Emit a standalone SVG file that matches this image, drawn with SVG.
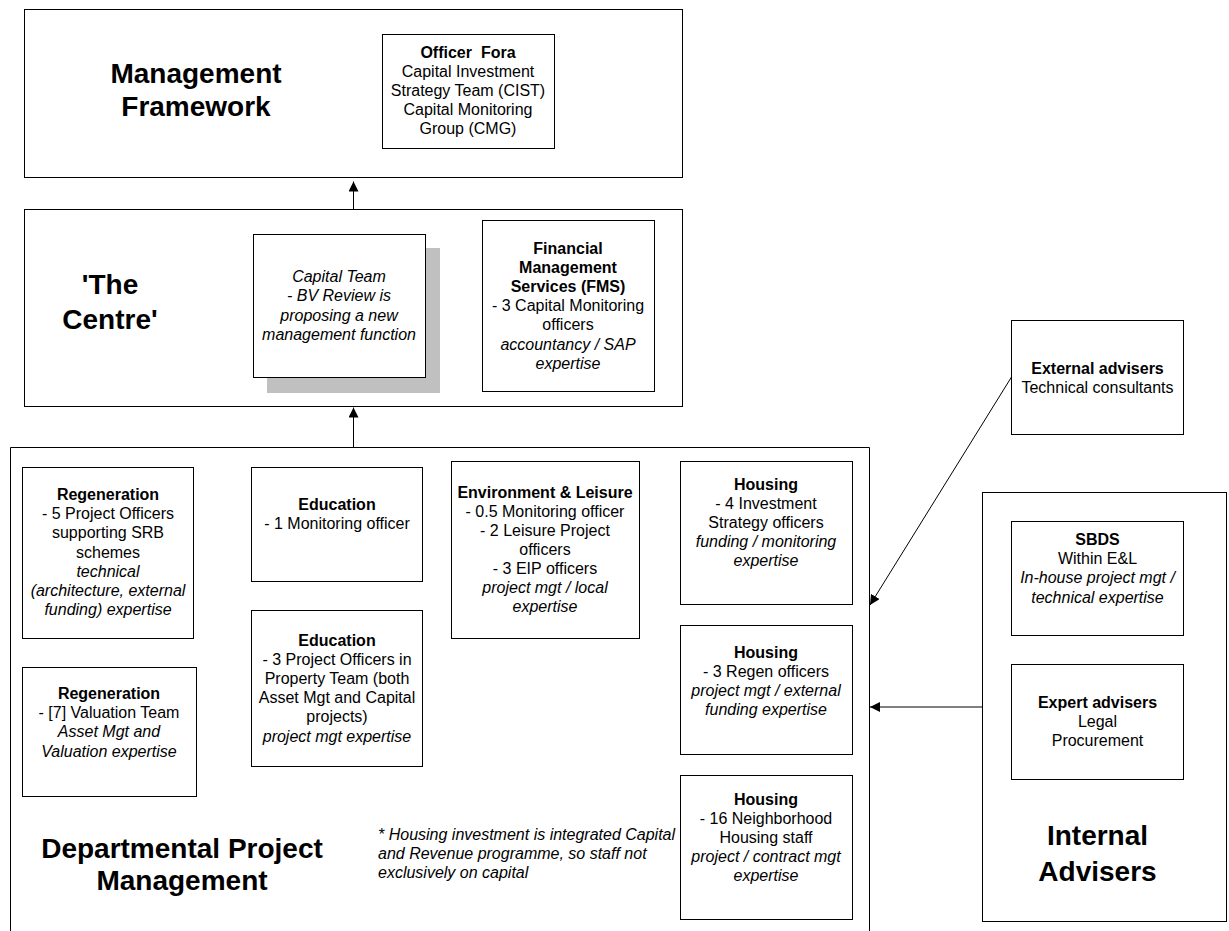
<svg xmlns="http://www.w3.org/2000/svg" width="1229" height="931" viewBox="0 0 1229 931">
<style>
text{font-family:"Liberation Sans",Arial,sans-serif;fill:#000}
.t{font-size:16px;text-anchor:middle}
.b{font-weight:bold}
.i{font-style:italic}
.h{font-size:28px;font-weight:bold;text-anchor:middle}
.box{fill:#fff;stroke:#000;stroke-width:1}
.con{stroke:#000;stroke-width:1;fill:none}
</style>
<defs>
<marker id="ah" viewBox="0 0 10 10" refX="10" refY="5" markerWidth="10" markerHeight="10" markerUnits="userSpaceOnUse" orient="auto">
<path d="M0,0 L10,5 L0,10 z" fill="#000"/>
</marker>
</defs>
<rect width="1229" height="931" fill="#fff"/>

<g id="management-framework">
<rect class="box" x="24.5" y="9.5" width="658" height="168"/>
<text class="h" x="196" y="83">Management</text>
<text class="h" x="196" y="116">Framework</text>
</g>
<g id="officer-fora">
<rect class="box" x="382.5" y="34.5" width="172" height="114"/>
<text class="t" x="468" y="58.4"><tspan class="b">Officer&#160; Fora</tspan><tspan x="468" dy="19">Capital Investment</tspan><tspan x="468" dy="19">Strategy Team (CIST)</tspan><tspan x="468" dy="19">Capital Monitoring</tspan><tspan x="468" dy="19">Group (CMG)</tspan></text>
</g>

<g id="the-centre">
<rect class="box" x="24.5" y="209.5" width="658" height="197"/>
<text class="h" x="110" y="294">'The</text>
<text class="h" x="110" y="329">Centre'</text>
</g>
<g id="capital-team">
<rect x="267" y="248" width="173" height="145" fill="#c0c0c0"/>
<rect class="box" x="253.5" y="234.5" width="172" height="143"/>
<text class="t i" x="339" y="282"><tspan>Capital Team</tspan><tspan x="339" dy="19.3">- BV Review is</tspan><tspan x="339" dy="19.3">proposing a new</tspan><tspan x="339" dy="19.3">management function</tspan></text>
</g>
<g id="fms">
<rect class="box" x="482.5" y="220.5" width="172" height="171"/>
<text class="t" x="568" y="254"><tspan class="b">Financial</tspan><tspan class="b" x="568" dy="19.1">Management</tspan><tspan class="b" x="568" dy="19.1">Services (FMS)</tspan><tspan x="568" dy="19.1">- 3 Capital Monitoring</tspan><tspan x="568" dy="19.1">officers</tspan><tspan class="i" x="568" dy="19.1">accountancy / SAP</tspan><tspan class="i" x="568" dy="19.1">expertise</tspan></text>
</g>

<g id="departmental">
<path class="box" d="M10.5,940 V447.5 H869.5 V940"/>
<text class="h" x="182" y="858">Departmental Project</text>
<text class="h" x="182" y="890">Management</text>
<text class="t i" style="text-anchor:start" x="378" y="840"><tspan>* Housing investment is integrated Capital</tspan><tspan x="378" dy="19">and Revenue programme, so staff not</tspan><tspan x="378" dy="19">exclusively on capital</tspan></text>
</g>
<g id="regeneration-1">
<rect class="box" x="22.5" y="467.5" width="171" height="171"/>
<text class="t" x="108" y="500"><tspan class="b">Regeneration</tspan><tspan x="108" dy="19.2">- 5 Project Officers</tspan><tspan x="108" dy="19.2">supporting SRB</tspan><tspan x="108" dy="19.2">schemes</tspan><tspan class="i" x="108" dy="19.2">technical</tspan><tspan class="i" x="108" dy="19.2">(architecture, external</tspan><tspan class="i" x="108" dy="19.2">funding) expertise</tspan></text>
</g>
<g id="regeneration-2">
<rect class="box" x="22.5" y="667.5" width="174" height="129"/>
<text class="t" x="109" y="699"><tspan class="b">Regeneration</tspan><tspan x="109" dy="19.2">- [7] Valuation Team</tspan><tspan class="i" x="109" dy="19.2">Asset Mgt and</tspan><tspan class="i" x="109" dy="19.2">Valuation expertise</tspan></text>
</g>
<g id="education-1">
<rect class="box" x="251.5" y="467.5" width="171" height="114"/>
<text class="t" x="337" y="510"><tspan class="b">Education</tspan><tspan x="337" dy="19">- 1 Monitoring officer</tspan></text>
</g>
<g id="education-2">
<rect class="box" x="251.5" y="610.5" width="171" height="156"/>
<text class="t" x="337" y="646"><tspan class="b">Education</tspan><tspan x="337" dy="19.1">- 3 Project Officers in</tspan><tspan x="337" dy="19.1">Property Team (both</tspan><tspan x="337" dy="19.1">Asset Mgt and Capital</tspan><tspan x="337" dy="19.1">projects)</tspan><tspan class="i" x="337" dy="19.1">project mgt expertise</tspan></text>
</g>
<g id="environment-leisure">
<rect class="box" x="451.5" y="461.5" width="188" height="177"/>
<text class="t" x="545" y="497.5"><tspan class="b">Environment &amp; Leisure</tspan><tspan x="545" dy="19.1">- 0.5 Monitoring officer</tspan><tspan x="545" dy="19.1">- 2 Leisure Project</tspan><tspan x="545" dy="19.1">officers</tspan><tspan x="545" dy="19.1">- 3 EIP officers</tspan><tspan class="i" x="545" dy="19.1">project mgt / local</tspan><tspan class="i" x="545" dy="19.1">expertise</tspan></text>
</g>
<g id="housing-1">
<rect class="box" x="680.5" y="461.5" width="172" height="143"/>
<text class="t" x="766" y="490"><tspan class="b">Housing</tspan><tspan x="766" dy="19.1">- 4 Investment</tspan><tspan x="766" dy="19.1">Strategy officers</tspan><tspan class="i" x="766" dy="19.1">funding / monitoring</tspan><tspan class="i" x="766" dy="19.1">expertise</tspan></text>
</g>
<g id="housing-2">
<rect class="box" x="680.5" y="625.5" width="172" height="129"/>
<text class="t" x="766" y="657.5"><tspan class="b">Housing</tspan><tspan x="766" dy="19">- 3 Regen officers</tspan><tspan class="i" x="766" dy="19">project mgt / external</tspan><tspan class="i" x="766" dy="19">funding expertise</tspan></text>
</g>
<g id="housing-3">
<rect class="box" x="680.5" y="775.5" width="172" height="144"/>
<text class="t" x="766" y="805"><tspan class="b">Housing</tspan><tspan x="766" dy="19.1">- 16 Neighborhood</tspan><tspan x="766" dy="19.1">Housing staff</tspan><tspan class="i" x="766" dy="19.1">project / contract mgt</tspan><tspan class="i" x="766" dy="19.1">expertise</tspan></text>
</g>

<g id="external-advisers">
<rect class="box" x="1011.5" y="320.5" width="172" height="114"/>
<text class="t" x="1097.5" y="374"><tspan class="b">External advisers</tspan><tspan x="1097.5" dy="18.5">Technical consultants</tspan></text>
</g>
<g id="internal-advisers">
<rect class="box" x="982.5" y="492.5" width="244" height="429"/>
<text class="h" x="1097.5" y="845">Internal</text>
<text class="h" x="1097.5" y="881">Advisers</text>
</g>
<g id="sbds">
<rect class="box" x="1011.5" y="521.5" width="172" height="114"/>
<text class="t" x="1097.5" y="545"><tspan class="b">SBDS</tspan><tspan x="1097.5" dy="19.2">Within E&amp;L</tspan><tspan class="i" x="1097.5" dy="19.2">In-house project mgt /</tspan><tspan class="i" x="1097.5" dy="19.2">technical expertise</tspan></text>
</g>
<g id="expert-advisers">
<rect class="box" x="1011.5" y="664.5" width="172" height="115"/>
<text class="t" x="1097.5" y="707.5"><tspan class="b">Expert advisers</tspan><tspan x="1097.5" dy="19.3">Legal</tspan><tspan x="1097.5" dy="19.3">Procurement</tspan></text>
</g>

<g id="connectors">
<line class="con" x1="353.5" y1="209.5" x2="353.5" y2="181.5" marker-end="url(#ah)"/>
<line class="con" x1="353.5" y1="447.5" x2="353.5" y2="407.5" marker-end="url(#ah)"/>
<line class="con" x1="1011.5" y1="377" x2="870" y2="605" marker-end="url(#ah)"/>
<line class="con" x1="982.5" y1="707" x2="870" y2="707" marker-end="url(#ah)"/>
</g>
</svg>
